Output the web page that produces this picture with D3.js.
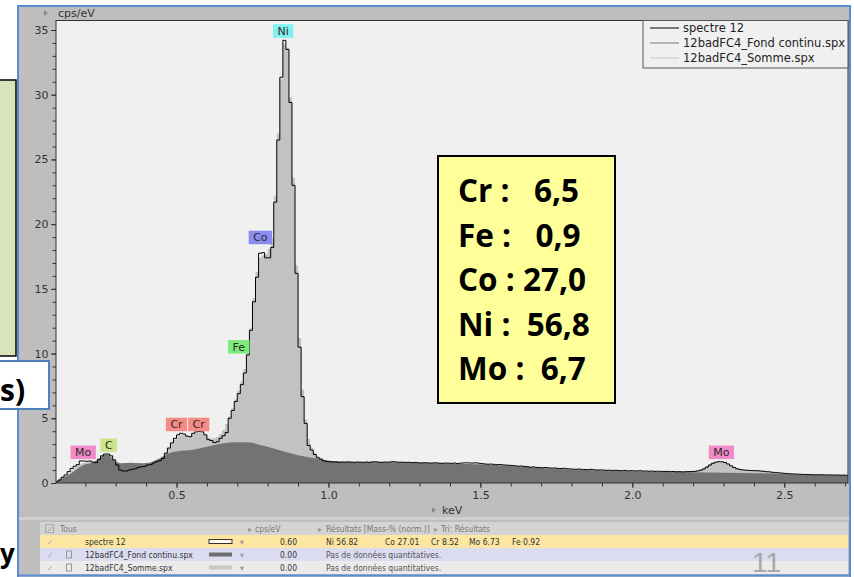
<!DOCTYPE html>
<html>
<head>
<meta charset="utf-8">
<script src="https://cdn.jsdelivr.net/npm/d3@7"></script>
<style>
  html, body { margin: 0; padding: 0; background: #fff; }
  svg { display: block; }
</style>
</head>
<body>
<svg id="chart" width="854" height="577"></svg>
<script>
// ---- EDS spectrum data (cps/eV), 10 eV channels ----
const channelStart = 0.10;   // keV, first channel
const channelWidth = 0.01;   // keV

// measured spectrum "spectre 12", 0.10 .. 2.71 keV
const spectre12 = [
  0.10, 0.23, 0.44, 0.62, 0.88, 1.13, 1.30, 1.42, 1.70, 1.70,
  1.68, 1.70, 1.62, 1.57, 1.83, 2.10, 2.24, 2.24, 2.10, 1.78,
  1.39, 1.00, 0.93, 0.93, 1.00, 1.06, 1.10, 1.20, 1.26, 1.28,
  1.39, 1.42, 1.55, 1.65, 1.72, 1.90, 2.30, 2.70, 3.10, 3.45,
  3.72, 3.84, 3.78, 3.62, 3.58, 3.84, 3.95, 3.97, 3.95, 3.72,
  3.35, 3.28, 3.12, 3.18, 3.45, 3.65, 3.90, 5.00, 5.60, 6.30,
  6.90, 7.60, 8.50, 9.90, 11.80, 14.00, 15.90, 17.75, 17.80, 17.40,
  17.40, 18.20, 21.70, 26.50, 31.35, 34.20, 33.50, 29.40, 23.00, 16.20,
  10.50, 6.67, 4.61, 2.90, 2.55, 2.20, 1.95, 1.85, 1.72, 1.66,
  1.64, 1.62, 1.63, 1.60, 1.62, 1.61, 1.63, 1.62, 1.60, 1.62,
  1.61, 1.60, 1.62, 1.60, 1.63, 1.64, 1.61, 1.60, 1.62, 1.61,
  1.63, 1.65, 1.62, 1.60, 1.61, 1.59, 1.60, 1.58, 1.59, 1.57,
  1.55, 1.57, 1.56, 1.54, 1.55, 1.56, 1.53, 1.52, 1.54, 1.53,
  1.52, 1.54, 1.50, 1.53, 1.55, 1.56, 1.55, 1.54, 1.56, 1.53,
  1.50, 1.47, 1.45, 1.46, 1.44, 1.42, 1.43, 1.40, 1.38, 1.37,
  1.35, 1.33, 1.30, 1.31, 1.28, 1.26, 1.22, 1.24, 1.21, 1.19,
  1.18, 1.20, 1.17, 1.15, 1.16, 1.13, 1.12, 1.14, 1.10, 1.09,
  1.07, 1.06, 1.08, 1.05, 1.04, 1.03, 1.05, 1.02, 1.00, 1.01,
  1.00, 0.98, 0.99, 0.97, 0.98, 0.96, 0.95, 0.97, 0.94, 0.95,
  0.94, 0.93, 0.95, 0.92, 0.93, 0.91, 0.92, 0.90, 0.91, 0.90,
  0.89, 0.90, 0.88, 0.89, 0.87, 0.88, 0.86, 0.87, 0.88, 0.89,
  0.90, 0.93, 0.99, 1.08, 1.22, 1.38, 1.52, 1.61, 1.65, 1.64,
  1.58, 1.47, 1.33, 1.20, 1.10, 1.04, 1.01, 0.99, 0.97, 0.96,
  0.95, 0.94, 0.92, 0.90, 0.87, 0.85, 0.82, 0.80, 0.78, 0.76,
  0.74, 0.72, 0.70, 0.70, 0.68, 0.67, 0.66, 0.66, 0.65, 0.64,
  0.64, 0.63, 0.64, 0.62, 0.63, 0.62, 0.61, 0.62, 0.60, 0.61,
  0.60, 0.61
];

// fitted sum "12badFC4_Somme.spx" where it rises above the continuum
const sommeLowStart = 0.10;
const sommeLow = [
  0.08, 0.20, 0.36, 0.55, 0.76, 0.98, 1.18, 1.35, 1.48, 1.56,
  1.60, 1.62, 1.62, 1.68, 1.84, 2.05, 2.18, 2.22, 2.10, 1.85,
  1.62, 1.50, 1.48, 1.50, 1.52, 1.54, 1.54, 1.52, 1.50, 1.50,
  1.50, 1.52, 1.58, 1.68, 1.82, 2.05, 2.35, 2.70, 3.05, 3.35,
  3.58, 3.70, 3.68, 3.62, 3.64, 3.78, 3.88, 3.88, 3.84, 3.70,
  3.52, 3.44, 3.45, 3.55, 3.78, 4.10, 4.55, 5.15, 5.80, 6.45,
  7.10, 7.85, 8.80, 10.10, 12.00, 14.30, 16.30, 17.40, 17.60, 17.70,
  18.10, 18.90, 22.20, 27.00, 31.20, 33.90, 33.60, 29.80, 23.60, 16.80,
  11.20, 7.20, 4.90, 3.40, 2.75, 2.35, 2.08, 1.92, 1.82, 1.75,
  1.72, 1.70, 1.68, 1.66, 1.65, 1.65
];
const sommeMoStart = 2.18;
const sommeMo = [
  0.86, 0.88, 0.92, 0.98, 1.06, 1.18, 1.32, 1.46, 1.56, 1.62,
  1.64, 1.62, 1.56, 1.46, 1.34, 1.22, 1.12, 1.06, 1.03, 1.01,
  1.00, 0.99, 0.98, 0.96, 0.93, 0.90, 0.87, 0.84, 0.81, 0.78,
  0.76, 0.74, 0.72, 0.70, 0.70
];

// continuum "12badFC4_Fond continu.spx"
const fondEnergy = [0.10, 0.12, 0.14, 0.16, 0.18, 0.20, 0.22, 0.24, 0.26, 0.27,
  0.28, 0.30, 0.32, 0.35, 0.38, 0.41, 0.44, 0.47, 0.51, 0.55,
  0.60, 0.65, 0.70, 0.74, 0.79, 0.85, 0.90, 0.96, 1.01, 1.07,
  1.20, 1.30, 1.40, 1.50, 1.60, 1.70, 1.80, 1.90, 2.00, 2.10,
  2.20, 2.30, 2.40, 2.50, 2.60, 2.72];
const fondValue = [0.05, 0.30, 0.55, 0.85, 1.20, 1.45, 1.55, 1.80, 2.12, 2.20,
  2.05, 1.65, 1.52, 1.57, 1.52, 1.57, 1.85, 2.25, 2.48, 2.55,
  2.80, 3.05, 3.14, 3.12, 2.85, 2.45, 2.15, 1.90, 1.70, 1.62,
  1.60, 1.54, 1.49, 1.44, 1.32, 1.16, 1.05, 0.97, 0.91, 0.87,
  0.84, 0.80, 0.76, 0.70, 0.62, 0.58];

// axis ticks
const xTickLabels = ['0.5', '1.0', '1.5', '2.0', '2.5'];
const yTickLabels = ['0', '5', '10', '15', '20', '25', '30', '35'];

// identified lines
const peakNames = ['Mo', 'C', 'Cr', 'Cr', 'Fe', 'Co', 'Ni', 'Mo'];
const peakEnergies = [0.193, 0.277, 0.500, 0.573, 0.705, 0.776, 0.851, 2.293];
const peakLevels = [1.85, 2.40, 4.00, 4.00, 10.00, 18.45, 34.40, 1.85];
const elementColors = { Mo: '#f38ac8', C: '#cde68c', Cr: '#f68a84', Fe: '#7eea7e', Co: '#8a8af0', Ni: '#80f0f0' };

// legend / table
const seriesNames = ['spectre 12', '12badFC4_Fond continu.spx', '12badFC4_Somme.spx'];
const seriesCps = ['0.60', '0.00', '0.00'];
const resultItems = ['Ni 56.82', 'Co 27.01', 'Cr 8.52', 'Mo 6.73', 'Fe 0.92'];
const noQuantText = 'Pas de données quantitatives.';

// quantification (mass %)
const quantElements = ['Cr', 'Fe', 'Co', 'Ni', 'Mo'];
const quantValues = ['6,5', '0,9', '27,0', '56,8', '6,7'];
const quantSpacing = ['   ', '   ', ' ', '  ', '  '];

// ---- drawing ----
const svg = d3.select('#chart');
const FONT = 'DejaVu Sans, Verdana, sans-serif';
const P = { l: 56, r: 848, t: 20.5, b: 483 };

const x = d3.scaleLinear().domain([0.5, 2.5]).range([176.5, 784.3]);
const y = d3.scaleLinear().domain([0, 35]).range([483, 30]);

// application window
svg.append('rect').attr('x', 18).attr('y', 6).attr('width', 832).attr('height', 571).attr('fill', '#bebebe');

// plot background
svg.append('rect').attr('x', P.l).attr('y', P.t).attr('width', P.r - P.l).attr('height', P.b - P.t).attr('fill', '#f0f0f0');

svg.append('clipPath').attr('id', 'plotclip').append('rect')
  .attr('x', P.l).attr('y', P.t).attr('width', P.r - P.l).attr('height', P.b - P.t);
const g = svg.append('g').attr('clip-path', 'url(#plotclip)');

function channels(start, values) {
  const pts = values.map((v, i) => [start + i * channelWidth, v]);
  pts.push([start + values.length * channelWidth, values[values.length - 1]]);
  return pts;
}

const stepArea = d3.area().curve(d3.curveStepAfter)
  .x(d => x(d[0])).y0(y(0)).y1(d => y(d[1]));
const fondArea = d3.area().curve(d3.curveMonotoneX)
  .x(d => x(d[0])).y0(y(0)).y1(d => y(d[1]));
const specLine = d3.line().curve(d3.curveStepAfter)
  .x(d => x(d[0])).y(d => y(d[1]));

g.append('path').attr('d', stepArea(channels(sommeLowStart, sommeLow))).attr('fill', '#c2c2c2');
g.append('path').attr('d', stepArea(channels(sommeMoStart, sommeMo))).attr('fill', '#c2c2c2');
g.append('path').attr('d', fondArea(fondEnergy.map((e, i) => [e, fondValue[i]]))).attr('fill', '#737373');
g.append('path').attr('d', specLine(channels(channelStart, spectre12)))
  .attr('fill', 'none').attr('stroke', '#000').attr('stroke-width', 1);

// axes
function styleAxis(sel) {
  sel.select('.domain').remove();
  sel.selectAll('line').attr('stroke', '#333');
  sel.selectAll('text').attr('fill', '#333').attr('font-family', FONT).attr('font-size', 11);
}
svg.append('g').attr('transform', `translate(${P.l},0)`)
  .call(d3.axisLeft(y).tickValues(d3.range(0, 36)).tickSize(3.5).tickFormat(''))
  .call(styleAxis);
svg.append('g').attr('transform', `translate(${P.l},0)`)
  .call(d3.axisLeft(y).tickValues(yTickLabels.map(Number)).tickSize(5).tickPadding(2.5)
    .tickFormat((d, i) => yTickLabels[i]))
  .call(styleAxis);
svg.append('g').attr('transform', `translate(0,${P.b})`)
  .call(d3.axisBottom(x).tickValues(d3.range(2, 28).map(d => d / 10)).tickSize(3.5).tickFormat(''))
  .call(styleAxis);
svg.append('g').attr('transform', `translate(0,${P.b})`)
  .call(d3.axisBottom(x).tickValues(xTickLabels.map(Number)).tickSize(5).tickPadding(3.5)
    .tickFormat((d, i) => xTickLabels[i]))
  .call(styleAxis);

// plot border
svg.append('rect').attr('x', P.l).attr('y', P.t).attr('width', P.r - P.l).attr('height', P.b - P.t)
  .attr('fill', 'none').attr('stroke', '#333').attr('stroke-width', 1);

// axis titles
svg.append('path').attr('d', 'M44,10 L44,16 L48,13 Z').attr('fill', '#8a8a8a');
svg.append('text').attr('x', 58).attr('y', 17).text('cps/eV')
  .attr('font-family', FONT).attr('font-size', 11).attr('fill', '#333');
svg.append('path').attr('d', 'M432,507 L432,513 L436,510 Z').attr('fill', '#8a8a8a');
svg.append('text').attr('x', 442).attr('y', 514).text('keV')
  .attr('font-family', FONT).attr('font-size', 11).attr('fill', '#333');

// peak labels
peakNames.forEach((name, i) => {
  const cx = x(peakEnergies[i]);
  const yb = y(peakLevels[i]);
  const lg = svg.append('g');
  const rect = lg.append('rect');
  const t = lg.append('text').attr('x', cx).attr('y', yb - 3).attr('text-anchor', 'middle')
    .attr('font-family', FONT).attr('font-size', 11).attr('fill', '#2a2a2a').text(name);
  const w = t.node().getComputedTextLength() + 9;
  rect.attr('x', cx - w / 2).attr('y', yb - 13.5).attr('width', w).attr('height', 13.5)
    .attr('fill', elementColors[name]);
});

// legend
const legend = svg.append('g');
legend.append('rect').attr('x', 643).attr('y', P.t).attr('width', P.r - 643).attr('height', 68 - P.t)
  .attr('fill', '#f0f0f0').attr('stroke', '#555').attr('stroke-width', 1);
const legendColors = ['#000', '#7a7a7a', '#c8c8c8'];
seriesNames.forEach((name, i) => {
  const ly = 28 + i * 15;
  legend.append('line').attr('x1', 650).attr('x2', 679).attr('y1', ly).attr('y2', ly)
    .attr('stroke', legendColors[i]).attr('stroke-width', 1);
  legend.append('text').attr('x', 683).attr('y', ly + 4).text(name)
    .attr('font-family', FONT).attr('font-size', 11.5).attr('fill', '#222');
});

// quantification box
const qb = svg.append('g');
qb.append('rect').attr('x', 438).attr('y', 156).attr('width', 177).attr('height', 247)
  .attr('fill', '#ffff99').attr('stroke', '#000').attr('stroke-width', 2);
const QFONT = 'Open Sans, Liberation Sans, sans-serif';
quantElements.forEach((el, i) => {
  qb.append('text').attr('x', 458).attr('y', 202 + i * 44.6)
    .attr('xml:space', 'preserve').style('white-space', 'pre')
    .text(el + ' :' + quantSpacing[i] + quantValues[i])
    .attr('font-family', QFONT).attr('font-weight', 700).attr('font-size', 31.5).attr('fill', '#000');
});

// results table under the chart
const TF = 'DejaVu Sans Condensed, DejaVu Sans, sans-serif';
svg.append('rect').attr('x', 18).attr('y', 517).attr('width', 832).attr('height', 3).attr('fill', '#d0d0d0');
svg.append('rect').attr('x', 40).attr('y', 522).attr('width', 808).attr('height', 13).attr('fill', '#d4d4d4');
const rowFills = ['#fce6a2', '#dcdcf0', '#ebebeb'];
const rowTops = [535, 548, 561];
const tt = (xx, yy, s, col, anchor) => svg.append('text').attr('x', xx).attr('y', yy).text(s)
  .attr('font-family', TF).attr('font-size', 8.5).attr('fill', col || '#333')
  .attr('text-anchor', anchor || 'start');

// header
svg.append('rect').attr('x', 45.5).attr('y', 524.5).attr('width', 8).attr('height', 8)
  .attr('fill', 'none').attr('stroke', '#aaa');
tt(47, 532, '✓', '#aaa');
tt(60, 532, 'Tous', '#777');
tt(248, 532, '▸', '#999'); tt(255, 532, 'cps/eV', '#777');
tt(318, 532, '▸', '#999'); tt(326, 532, 'Résultats [Mass-% (norm.)]', '#777');
tt(434, 532, '▸', '#999'); tt(441, 532, 'Tri: Résultats', '#777');

const swatchFill = ['#fffbe8', '#6e6e6e', '#c8c8c8'];
seriesNames.forEach((name, i) => {
  const top = rowTops[i];
  const by = top + 9.5;
  svg.append('rect').attr('x', 40).attr('y', top).attr('width', 808).attr('height', 13).attr('fill', rowFills[i]);
  tt(47, by, '✓', '#aaa');
  if (i > 0) {
    svg.append('rect').attr('x', 66.5).attr('y', top + 3).attr('width', 5).attr('height', 7)
      .attr('fill', 'none').attr('stroke', '#999');
  }
  tt(85, by, name, '#333');
  svg.append('rect').attr('x', 209).attr('y', top + 4.5).attr('width', 23).attr('height', 4)
    .attr('fill', swatchFill[i]).attr('stroke', i === 0 ? '#333' : 'none');
  tt(240, by, '▾', '#999');
  tt(297, by, seriesCps[i], '#333', 'end');
  if (i === 0) {
    const rx = [326, 385, 431, 469, 512];
    resultItems.forEach((r, k) => tt(rx[k], by, r, '#333'));
  } else {
    tt(326, by, noQuantText, '#555');
  }
});

// window border
svg.append('path').attr('d', 'M18,577 V6 H850 V577').attr('fill', 'none')
  .attr('stroke', '#5b8bd2').attr('stroke-width', 2);
svg.append('rect').attr('x', 18).attr('y', 574.5).attr('width', 832).attr('height', 2).attr('fill', '#5b8bd2');

// slide number
svg.append('text').attr('x', 752).attr('y', 572).text('11')
  .attr('font-family', 'Liberation Sans, sans-serif').attr('font-size', 28).attr('fill', '#a8a8a8');

// surrounding slide boxes
svg.append('rect').attr('x', -2).attr('y', 80).attr('width', 18).attr('height', 276)
  .attr('fill', '#d8e4bc').attr('stroke', '#000').attr('stroke-width', 1.5);
svg.append('rect').attr('x', -2).attr('y', 361).attr('width', 51).attr('height', 48)
  .attr('fill', '#fff').attr('stroke', '#4f81bd').attr('stroke-width', 2);
svg.append('text').attr('x', 0).attr('y', 401).text('s)')
  .attr('font-family', QFONT).attr('font-weight', 700).attr('font-size', 30).attr('fill', '#000');
svg.append('text').attr('x', 0).attr('y', 563).text('y')
  .attr('font-family', QFONT).attr('font-weight', 700).attr('font-size', 26).attr('fill', '#000');
</script>
</body>
</html>
